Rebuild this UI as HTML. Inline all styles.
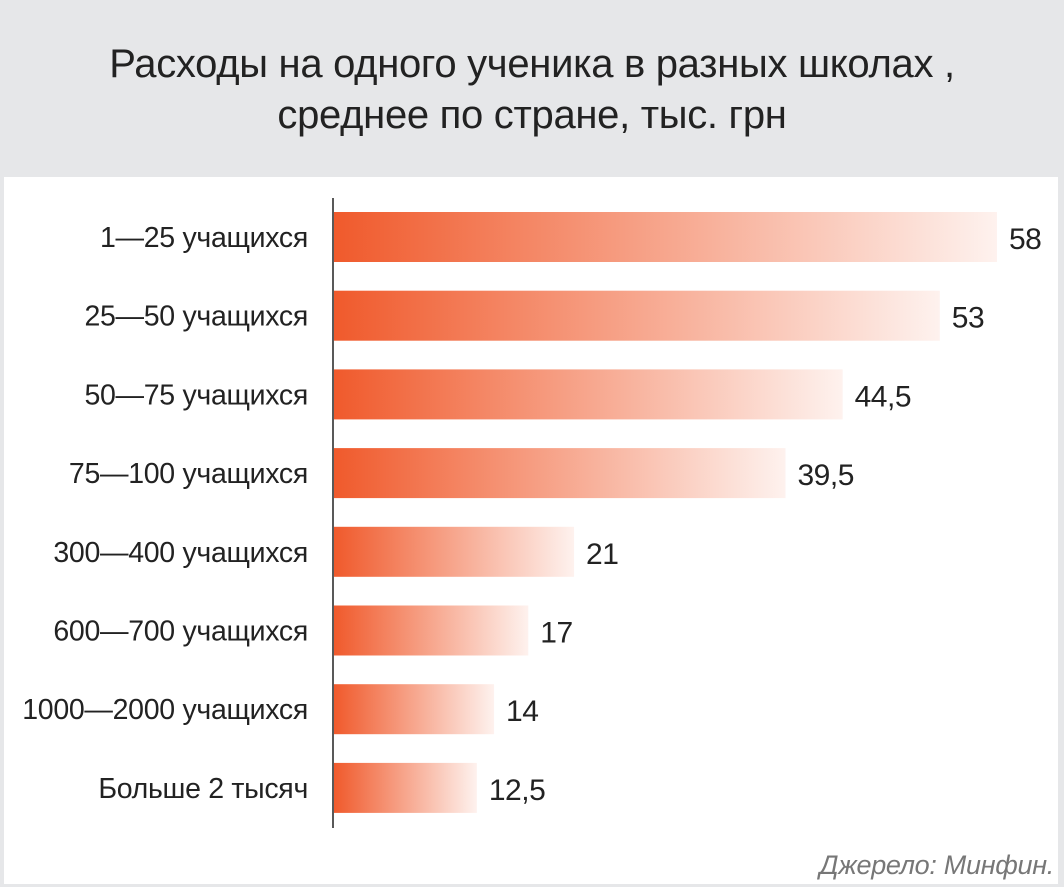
<!DOCTYPE html>
<html><head><meta charset="utf-8"><style>
body{margin:0;width:1064px;height:887px;background:#e6e7e9;font-family:"Liberation Sans",sans-serif;overflow:hidden;position:relative}
#title{position:absolute;left:0;top:39px;width:1064px;text-align:center;font-size:40px;line-height:51px;color:#222;letter-spacing:-0.3px}
#panel{position:absolute;left:4px;top:177px;width:1054px;height:707px;background:#fff}
#src{position:absolute;right:10px;bottom:6px;font-style:italic;font-size:27px;color:#777;letter-spacing:-0.3px}
</style></head><body>
<div id="title">Расходы на одного ученика в разных школах ,<br>среднее по стране, тыс. грн</div>
<div id="panel"></div>
<svg id="chart" width="1064" height="887" style="position:absolute;left:0;top:0">
<defs><linearGradient id="g" x1="0" x2="1" y1="0" y2="0"><stop offset="0" stop-color="#f05a2c"/><stop offset="1" stop-color="#f05a2c" stop-opacity="0.08"/></linearGradient></defs>
</svg>
<div id="src">Джерело: Минфин.</div>
<script>
const categories=["1—25 учащихся","25—50 учащихся","50—75 учащихся","75—100 учащихся","300—400 учащихся","600—700 учащихся","1000—2000 учащихся","Больше 2 тысяч"];
const values=[58,53,44.5,39.5,21,17,14,12.5];
const valueLabels=["58","53","44,5","39,5","21","17","14","12,5"];
const svg=document.getElementById('chart');const NS='http://www.w3.org/2000/svg';
const x0=334,scale=11.43,top0=212,pitch=78.7,bh=50;
const xs=v=>x0+v*scale, ys=i=>top0+i*pitch;
function mk(t,a){const e=document.createElementNS(NS,t);for(const k in a)e.setAttribute(k,a[k]);svg.appendChild(e);return e;}
categories.forEach((c,i)=>{
 const r=mk('rect',{x:x0,y:ys(i),width:xs(values[i])-x0,height:bh,fill:'url(#g)'});
 
 
 const l=mk('text',{x:308,y:ys(i)+35,'text-anchor':'end','font-size':28.5,fill:'#222','letter-spacing':'-0.3'});l.textContent=c;
 
 
 const v=mk('text',{x:xs(values[i])+12,y:ys(i)+37,'font-size':30,fill:'#222','letter-spacing':'-0.5'});v.textContent=valueLabels[i];
 
 
});
const ax=mk('line',{x1:333,x2:333,y1:198,y2:828,stroke:'#222','stroke-width':1.5});


</script>
</body></html>
